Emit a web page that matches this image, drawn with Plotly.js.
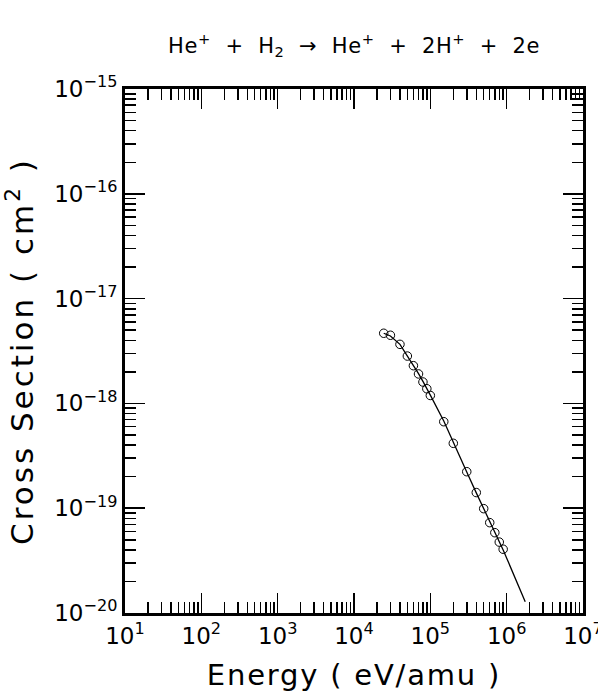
<!DOCTYPE html>
<html>
<head>
<meta charset="utf-8">
<script src="https://cdn.plot.ly/plotly-3.0.1.min.js"></script>
<style>html,body{margin:0;padding:0;background:#fff;}#chart{width:598px;height:696px;}</style>
</head>
<body>
<div id="chart"></div>
<script>
// Measured data points (open circles)
const energy = [24500, 30000, 40000, 50000, 60000, 70000, 80000, 90000, 100000, 150000, 200000, 300000, 400000, 500000, 600000, 700000, 800000, 900000];
const crossSection = [4.67e-18, 4.47e-18, 3.66e-18, 2.83e-18, 2.29e-18, 1.91e-18, 1.60e-18, 1.38e-18, 1.19e-18, 6.69e-19, 4.16e-19, 2.23e-19, 1.41e-19, 9.9e-20, 7.28e-20, 5.84e-20, 4.75e-20, 4.06e-20];
// Fitted curve
const fitEnergy = [24500, 30000, 40000, 50000, 60000, 70000, 80000, 90000, 100000, 150000, 200000, 300000, 400000, 500000, 600000, 700000, 800000, 900000, 1750000];
const fitCross = [4.67e-18, 4.40e-18, 3.66e-18, 2.85e-18, 2.30e-18, 1.92e-18, 1.62e-18, 1.39e-18, 1.20e-18, 6.80e-19, 4.20e-19, 2.22e-19, 1.40e-19, 9.9e-20, 7.35e-20, 5.85e-20, 4.75e-20, 4.00e-20, 1.28e-20];
// Tick labels
const xTickVals = [1e1, 1e2, 1e3, 1e4, 1e5, 1e6, 1e7];
const xTickText = ['10<sup>1</sup>', '10<sup>2</sup>', '10<sup>3</sup>', '10<sup>4</sup>', '10<sup>5</sup>', '10<sup>6</sup>', '10<sup>7</sup>'];
const yTickVals = [1e-20, 1e-19, 1e-18, 1e-17, 1e-16, 1e-15];
const yTickText = ['10<sup>\u221220</sup>', '10<sup>\u221219</sup>', '10<sup>\u221218</sup>', '10<sup>\u221217</sup>', '10<sup>\u221216</sup>', '10<sup>\u221215</sup>'];

const S = '\u00a0';
const FONT = 'DejaVu Sans';

const traces = [
  {x: fitEnergy, y: fitCross, mode: 'lines', line: {color: 'black', width: 1.3}, hoverinfo: 'skip', cliponaxis: true},
  {x: energy, y: crossSection, mode: 'markers',
   marker: {symbol: 'circle-open', size: 8.5, color: 'black', line: {width: 1, color: 'black'}}}
];

const axisCommon = {
  type: 'log', showgrid: false, zeroline: false,
  showline: true, linecolor: 'black', linewidth: 3, mirror: 'allticks',
  ticks: 'inside', ticklen: 20, tickwidth: 1.5, tickcolor: 'black',
  tickmode: 'array', ticklabeloverflow: 'allow',
  minor: {ticks: 'inside', ticklen: 11, tickwidth: 1.5, tickcolor: 'black', dtick: 'D1', showgrid: false},
  tickfont: {family: FONT, size: 23, color: 'black'}
};

const layout = {
  width: 598, height: 696,
  margin: {l: 125, r: 15, t: 89, b: 83},
  paper_bgcolor: 'white', plot_bgcolor: 'white',
  showlegend: false,
  title: {
    text: 'He<sup>+</sup>' + S+S + '+' + S+S + 'H<sub>2</sub>' + S+S + '\u2192' + S+S + 'He<sup>+</sup>' + S+S + '+' + S+S + '2H<sup>+</sup>' + S+S + '+' + S+S + '2e',
    font: {family: FONT, size: 21, color: 'black'},
    x: 0.5, xref: 'paper', xanchor: 'center', y: 0.935, yref: 'container', yanchor: 'middle'
  },
  xaxis: Object.assign({}, axisCommon, {
    range: [1, 7], tickvals: xTickVals, ticktext: xTickText,
    title: {text: 'Energy' + S + '(' + S + 'eV/amu' + S + ')', font: {family: FONT, size: 29, color: 'black'}, standoff: 18}
  }),
  yaxis: Object.assign({}, axisCommon, {
    range: [-20, -15], tickvals: yTickVals, ticktext: yTickText,
    title: {text: 'Cross' + S + 'Section' + S + '(' + S + 'cm<sup>2</sup>' + S + ')', font: {family: FONT, size: 31, color: 'black'}, standoff: 12}
  })
};

function spaceTitles() {
  document.querySelectorAll('#chart .xtitle').forEach(el => el.style.letterSpacing = '1.8px');
  document.querySelectorAll('#chart .ytitle').forEach(el => el.style.letterSpacing = '3px');
  document.querySelectorAll('#chart .gtitle').forEach(el => el.style.letterSpacing = '0.6px');
}

Plotly.newPlot('chart', traces, layout, {displayModeBar: false, staticPlot: true}).then(spaceTitles);
</script>
</body>
</html>
